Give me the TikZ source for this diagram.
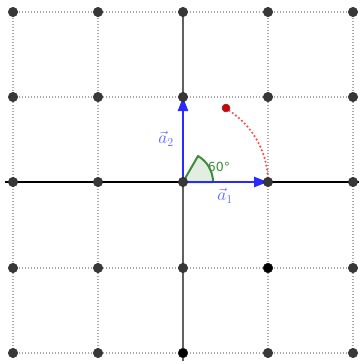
\documentclass[tikz,border=0pt]{standalone}
\usepackage{fontspec}
\newfontfamily\labelsans{DejaVu Sans}
\usetikzlibrary{arrows.meta}
\definecolor{vecblue}{HTML}{2A2AFF}
\definecolor{lblblue}{HTML}{6262FF}
\definecolor{anggreen}{HTML}{3C8C3C}
\definecolor{angfill}{HTML}{E2EEE2}
\definecolor{dotgray}{HTML}{383838}
\definecolor{gridgray}{HTML}{A8A8A8}
\definecolor{arcred}{HTML}{FF4A4A}
\tikzset{
  gridline/.style={gridgray, line width=1.1pt, dash pattern=on 1pt off 2pt},
  latpt/.style={circle, fill=dotgray, draw=black!85, line width=0.4pt, inner sep=0pt, minimum size=9.5pt},
  latptdark/.style={latpt, fill=black},
  vecarrow/.style={vecblue, line width=2.4pt, -{Triangle[length=14pt,width=10pt]}},
  veclabel/.style={text=lblblue, font=\fontsize{18}{18}\selectfont},
}
\begin{document}
\begin{tikzpicture}[x=1pt,y=-1pt]
\useasboundingbox (0,0) rectangle (359,364);
% lattice coordinates
\foreach \i/\x in {0/13,1/98,2/183,3/268,4/353}{
  \foreach \j/\y in {0/12,1/97,2/182,3/268,4/353}{
    \coordinate (c\i\j) at (\x,\y);
  }
}
\coordinate (hl) at (5,182);
\coordinate (hr) at (359,182);
\coordinate (vb) at (183,361);
% dotted grid
\foreach \i in {0,1,3,4}{
  \draw[gridline] (c\i0) -- (c\i4);
  \draw[gridline] (c0\i) -- (c4\i);
}
% axes
\draw[black, line width=1.6pt] (hl) -- (hr);
\draw[black!62, line width=1.9pt] (c20) -- (vb);
% angle sector
\draw[anggreen, fill=angfill, line width=2pt, line join=round] (c22) -- ++(30,0) arc[start angle=0, end angle=-60, radius=30] -- cycle;
\node[text=anggreen, font=\labelsans\fontsize{12.5}{12.5}\selectfont] (ang) at (219,167) {60°};
% red dotted arc
\draw[arcred, line width=2.4pt, line cap=round, dash pattern=on 0pt off 4pt] (c22) ++(-3:85) arc[start angle=-3, end angle=-57, radius=85];
% vectors
\draw[vecarrow] (c22) -- (c32);
\draw[vecarrow] (c22) -- (c21);
\node[veclabel] (la1) at (225,196) {$\vec{a}_1$};
\node[veclabel] (la2) at (166,139) {$\vec{a}_2$};
% lattice points
\foreach \i in {0,...,4}{
  \foreach \j in {0,...,4}{
    \node[latpt] (p\i\j) at (c\i\j) {};
  }
}
\node[latptdark] (q24) at (c24) {};
\node[latptdark] (q33) at (c33) {};
% rotated point
\node[circle, fill=red!85!black, draw=black!70, line width=0.5pt, inner sep=0pt, minimum size=8pt] (r) at (226,108) {};
\end{tikzpicture}
\end{document}
